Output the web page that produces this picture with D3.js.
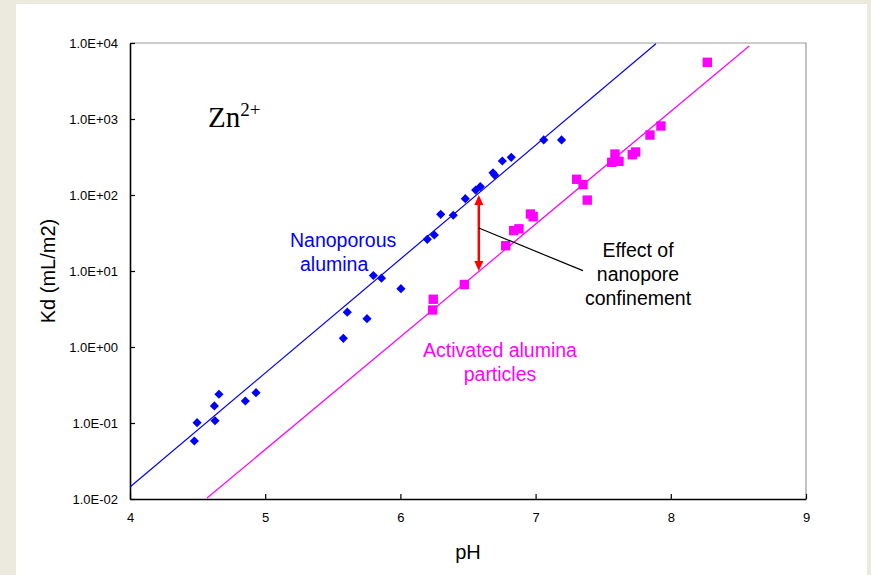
<!DOCTYPE html>
<html><head><meta charset="utf-8">
<script src="https://cdn.jsdelivr.net/npm/d3@7"></script>
<style>
html,body{margin:0;padding:0;background:#ece9df;}
svg{display:block;}
</style></head>
<body>
<svg id="chart" width="871" height="575"></svg>
<script>
// ---- data ----
const nanoPH = [4.476,4.496,4.624,4.629,4.658,4.853,4.932,5.578,5.607,5.753,5.800,5.860,6.004,6.199,6.251,6.298,6.391,6.480,6.557,6.591,6.685,6.697,6.754,6.820,7.060,7.192];
const nanoKd = [0.058,0.101,0.168,0.107,0.239,0.195,0.251,1.30,2.87,2.36,8.72,8.04,5.85,26.1,29.8,55.7,54.1,89.4,116,129,196,183,280,313,530,530];
const activPH = [6.243,6.239,6.473,6.779,6.838,6.877,6.962,6.982,7.304,7.351,7.382,7.563,7.587,7.617,7.715,7.740,7.846,7.927,8.270];
const activKd = [4.25,3.07,6.64,21.5,34.0,35.9,56.2,51.8,161,137,85.7,269,346,277,339,368,615,809,5570];
const nanoFitPH = [4.0, 7.89];
const nanoFitKd = [0.0144, 9770];
const activFitPH = [4.57, 8.58];
const activFitKd = [0.0103, 9120];
const arrowPH = 6.58;
const arrowKd = [100, 10];
const leaderPH = [6.58, 7.35];
const leaderKd = [36.8, 10.1];
const xTicks = [4,5,6,7,8,9];
const yTicks = [0.01,0.1,1,10,100,1000,10000];
const yTickLabels = ["1.0E-02","1.0E-01","1.0E+00","1.0E+01","1.0E+02","1.0E+03","1.0E+04"];

const svg = d3.select("#chart");
svg.append("rect").attr("x",16).attr("y",4).attr("width",851).attr("height",571).attr("fill","#fff");

const L=130,R=806,T=43,B=499;
const x = d3.scaleLinear().domain([4,9]).range([L,R]);
const y = d3.scaleLog().domain([0.01,10000]).range([B,T]);

// frame (top/right grey)
svg.append("path").attr("d",`M${L},${T}H${R}V${B}`).attr("fill","none").attr("stroke","#999").attr("stroke-width",1.2);

// axes
const font = "'Liberation Sans', Arial, sans-serif";
const xAxis = d3.axisBottom(x).tickValues(xTicks).tickSizeInner(-5).tickSizeOuter(0).tickPadding(14).tickFormat(d3.format("d"));
const gx = svg.append("g").attr("transform",`translate(0,${B})`).call(xAxis);
const yAxis = d3.axisLeft(y).tickValues(yTicks).tickSizeInner(-5).tickSizeOuter(0).tickPadding(12).tickFormat((d,i)=>yTickLabels[i]);
const gy = svg.append("g").attr("transform",`translate(${L},0)`).call(yAxis);
[gx,gy].forEach(g=>{
  g.select(".domain").attr("stroke","#000").attr("stroke-width",1.6);
  g.selectAll(".tick line").attr("stroke","#000").attr("stroke-width",1.2);
  g.selectAll(".tick text").attr("font-family",font).attr("font-size","13px").attr("fill","#000");
});

// axis titles
svg.append("text").attr("x",468).attr("y",559).attr("text-anchor","middle")
  .attr("font-family",font).attr("font-size","20px").text("pH");
svg.append("text").attr("transform","translate(55,271) rotate(-90)").attr("text-anchor","middle")
  .attr("font-family",font).attr("font-size","20px").text("Kd (mL/m2)");

// fit lines
const line = d3.line().x(d=>x(d[0])).y(d=>y(d[1]));
svg.append("path").datum(d3.zip(nanoFitPH,nanoFitKd)).attr("d",line)
  .attr("fill","none").attr("stroke","#0000ff").attr("stroke-width",1.2);
svg.append("path").datum(d3.zip(activFitPH,activFitKd)).attr("d",line)
  .attr("fill","none").attr("stroke","#ff00ff").attr("stroke-width",1.2);

// points
const diamond = d3.symbol().type(d3.symbolSquare).size(42);
svg.append("g").selectAll("path").data(d3.zip(nanoPH,nanoKd)).join("path")
  .attr("d",diamond)
  .attr("transform",d=>`translate(${x(d[0])},${y(d[1])}) rotate(45)`)
  .attr("fill","#0000ff");
const square = d3.symbol().type(d3.symbolSquare).size(88);
svg.append("g").selectAll("path").data(d3.zip(activPH,activKd)).join("path")
  .attr("d",square)
  .attr("transform",d=>`translate(${x(d[0])},${y(d[1])})`)
  .attr("fill","#ff00ff");

// red double arrow
const ax = x(arrowPH), ay1 = y(arrowKd[0]), ay2 = y(arrowKd[1]);
svg.append("line").attr("x1",ax).attr("x2",ax).attr("y1",ay1+8).attr("y2",ay2-8)
  .attr("stroke","#ff0000").attr("stroke-width",2.5);
svg.append("path").attr("d",`M${ax},${ay1}L${ax-4.5},${ay1+10}L${ax+4.5},${ay1+10}Z`).attr("fill","#ff0000");
svg.append("path").attr("d",`M${ax},${ay2}L${ax-4.5},${ay2-10}L${ax+4.5},${ay2-10}Z`).attr("fill","#ff0000");

// leader line
svg.append("line").attr("x1",x(leaderPH[0])).attr("y1",y(leaderKd[0]))
  .attr("x2",x(leaderPH[1])).attr("y2",y(leaderKd[1]))
  .attr("stroke","#000").attr("stroke-width",1.2);

// annotations
function multiline(xc, y0, lines, color, anchor){
  const t = svg.append("text").attr("font-family",font).attr("font-size","19.5px")
    .attr("fill",color).attr("text-anchor",anchor);
  lines.forEach((s,i)=>t.append("tspan").attr("x",xc).attr("y",y0+i*24).text(s));
}
multiline(638,257,["Effect of","nanopore","confinement"],"#000","middle");
multiline(290,247,["Nanoporous"],"#0000ff","start");
multiline(300,271,["alumina"],"#0000ff","start");
multiline(500,357,["Activated alumina","particles"],"#ff00ff","middle");

// Zn2+
const zn = svg.append("text").attr("x",208).attr("y",127)
  .attr("font-family","'Liberation Serif','Times New Roman',serif").attr("font-size","29px").attr("fill","#000");
zn.append("tspan").text("Zn");
zn.append("tspan").attr("font-size","19px").attr("dy",-11).text("2+");
</script>
</body></html>
